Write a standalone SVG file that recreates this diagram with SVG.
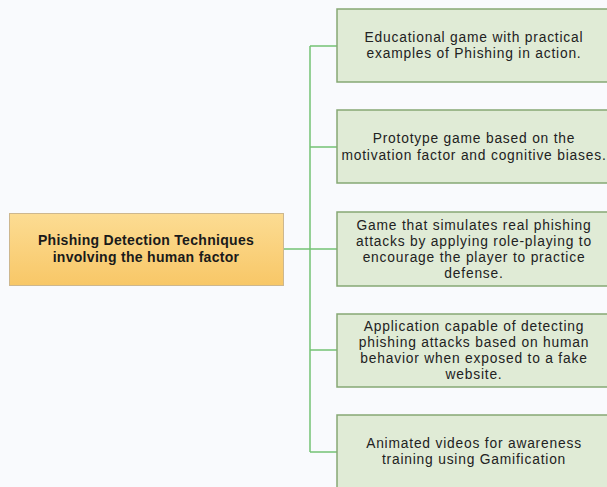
<svg xmlns="http://www.w3.org/2000/svg" width="607" height="487" viewBox="0 0 607 487">
<defs>
<linearGradient id="og" x1="0" y1="0" x2="0" y2="1">
<stop offset="0" stop-color="#fcdc93"/>
<stop offset="1" stop-color="#f8c767"/>
</linearGradient>
<style>
.leaf rect{fill:#e0ebd6;stroke:#86a874;stroke-width:1.5}
.leaf text{font-family:"Liberation Sans",Arial,sans-serif;font-size:13.8px;letter-spacing:0.8px;fill:#222;text-anchor:middle}
.root text{font-family:"Liberation Sans",Arial,sans-serif;font-size:14px;letter-spacing:0.3px;font-weight:bold;fill:#1a1a1a;text-anchor:middle}
.conn{stroke:#74c274;stroke-width:1.5;fill:none}
</style>
</defs>
<rect width="607" height="487" fill="#f9fafd"/>
<g id="connectors">
<path class="conn" d="M283 249H310M310 46V452M310 46H337M310 147H337M310 249H337M310 350H337M310 452H337"/>
</g>
<g id="root" class="root">
<rect x="9.5" y="213.5" width="274" height="72" fill="url(#og)" stroke="#cdb78f" stroke-width="1"/>
<text x="146" y="245">Phishing Detection Techniques</text>
<text x="146" y="262">involving the human factor</text>
</g>
<g id="n1" class="leaf">
<rect x="337" y="9" width="275" height="73"/>
<text x="474" y="42">Educational game with practical</text>
<text x="474" y="58">examples of Phishing in action.</text>
</g>
<g id="n2" class="leaf">
<rect x="337" y="110" width="275" height="73"/>
<text x="474" y="143">Prototype game based on the</text>
<text x="474" y="159.5">motivation factor and cognitive biases.</text>
</g>
<g id="n3" class="leaf">
<rect x="337" y="212" width="275" height="74"/>
<text x="474" y="230">Game that simulates real phishing</text>
<text x="474" y="246">attacks by applying role-playing to</text>
<text x="474" y="262">encourage the player to practice</text>
<text x="474" y="278">defense.</text>
</g>
<g id="n4" class="leaf">
<rect x="337" y="314" width="275" height="73"/>
<text x="474" y="331">Application capable of detecting</text>
<text x="474" y="347">phishing attacks based on human</text>
<text x="474" y="363">behavior when exposed to a fake</text>
<text x="474" y="379">website.</text>
</g>
<g id="n5" class="leaf">
<rect x="337" y="415" width="275" height="80"/>
<text x="474" y="448">Animated videos for awareness</text>
<text x="474" y="464">training using Gamification</text>
</g>
</svg>
